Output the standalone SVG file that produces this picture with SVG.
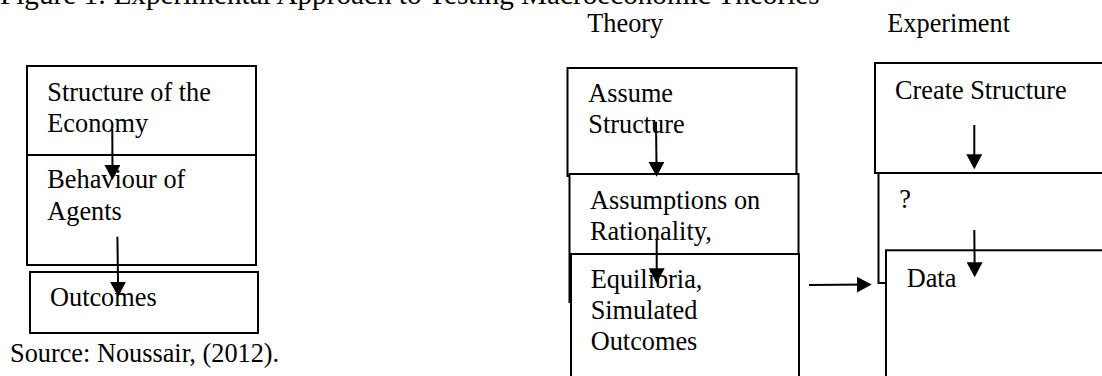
<svg xmlns="http://www.w3.org/2000/svg" width="1102" height="376" viewBox="0 0 1102 376">
  <style>
    .t { font-family: "Liberation Serif", "Times New Roman", serif; font-size: 26.3px; fill: #000; }
    .title { font-family: "Liberation Serif", "Times New Roman", serif; font-size: 29.2px; fill: #000; }
    .box { fill: #fff; stroke: #000; stroke-width: 2; }
    .conn { stroke: #000; stroke-width: 2; fill: none; marker-end: url(#ah); }
  </style>
  <defs>
    <marker id="ah" markerUnits="userSpaceOnUse" markerWidth="16" markerHeight="16" refX="12" refY="8" orient="auto">
      <path d="M0,0 L15,8 L0,16 z" fill="#000"/>
    </marker>
  </defs>
  <rect width="1102" height="376" fill="#fff"/>

  <text class="title" x="0" y="4">Figure 1: Experimental Approach to Testing Macroeconomic Theories</text>
  <text class="t" x="587.3" y="32.3">Theory</text>
  <text class="t" x="887.3" y="32.3">Experiment</text>

  <g id="structure-economy">
    <rect class="box" x="27" y="66" width="229" height="89"/>
    <text class="t" x="47.3" y="101"><tspan x="47.3">Structure of the</tspan><tspan x="47.3" dy="30.7">Economy</tspan></text>
  </g>
  <g id="behaviour-agents">
    <rect class="box" x="27" y="155" width="229" height="110"/>
    <text class="t" x="47.3" y="188.3"><tspan x="47.3">Behaviour of</tspan><tspan x="47.3" dy="31.7">Agents</tspan></text>
  </g>
  <g id="outcomes-left">
    <rect class="box" x="30" y="272" width="228" height="61"/>
    <text class="t" x="50" y="306">Outcomes</text>
  </g>
  <text class="t" x="10" y="361.7">Source: Noussair, (2012).</text>

  <g id="assume-structure">
    <rect class="box" x="567.5" y="68" width="229" height="108"/>
    <text class="t" x="588.3" y="102.3"><tspan x="588.3">Assume</tspan><tspan x="588.3" dy="31">Structure</tspan></text>
  </g>
  <g id="assumptions-rationality">
    <rect class="box" x="569.5" y="174" width="229" height="128"/>
    <text class="t" x="590" y="209.3"><tspan x="590">Assumptions on</tspan><tspan x="590" dy="30.7">Rationality,</tspan></text>
  </g>
  <g id="equilibria">
    <rect class="box" x="571" y="254" width="228" height="140"/>
    <text class="t" x="590.7" y="288.3"><tspan x="590.7">Equilibria,</tspan><tspan x="590.7" dy="30.5">Simulated</tspan><tspan x="590.7" dy="31.2">Outcomes</tspan></text>
  </g>

  <g id="create-structure">
    <rect class="box" x="875" y="63" width="250" height="110"/>
    <text class="t" x="895" y="99">Create Structure</text>
  </g>
  <g id="question">
    <rect class="box" x="878.5" y="173" width="250" height="110"/>
    <text class="t" x="899.3" y="207.7">?</text>
  </g>
  <g id="data">
    <rect class="box" x="886" y="250.3" width="250" height="150"/>
    <text class="t" x="906.7" y="286.7">Data</text>
  </g>

  <g id="connectors">
    <line class="conn" x1="112.3" y1="129.3" x2="112.5" y2="177"/>
    <line class="conn" x1="117.4" y1="236.7" x2="118.2" y2="293.7"/>
    <line class="conn" x1="656" y1="121.7" x2="656.6" y2="173.7"/>
    <line class="conn" x1="656.7" y1="238.3" x2="656.7" y2="280.3"/>
    <line class="conn" x1="809" y1="285" x2="868.7" y2="284.6"/>
    <line class="conn" x1="974.3" y1="125" x2="974.3" y2="166.3"/>
    <line class="conn" x1="974.3" y1="230" x2="974.7" y2="274.3"/>
  </g>
</svg>
